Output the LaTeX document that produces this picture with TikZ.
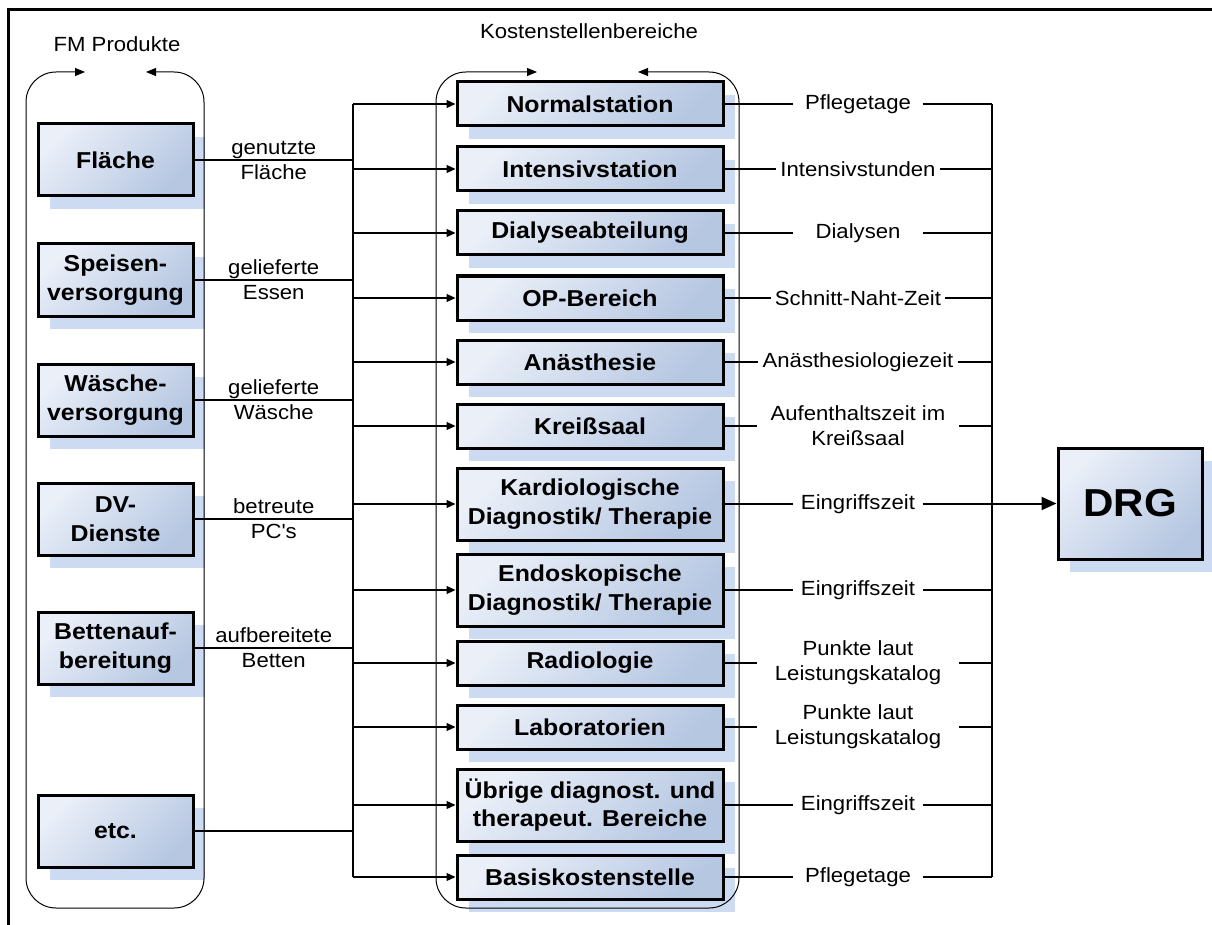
\documentclass[tikz,border=0pt]{standalone}
\usepackage{fontspec}
\setmainfont{Liberation Sans}[FakeStretch=1.08]
\usetikzlibrary{arrows.meta,shadows}

\definecolor{boxlight}{RGB}{234,239,248}
\definecolor{boxdark}{RGB}{182,199,226}
\definecolor{shadowblue}{RGB}{204,218,242}

\newcommand\lblfont{\fontsize{20.5}{25}\selectfont}
\newcommand\boxfont{\fontsize{23}{28.5}\selectfont\bfseries}

\tikzset{
  unitbox/.style={draw, line width=3pt, top color=boxlight, bottom color=boxdark,
    shading angle=45, font=\boxfont, align=center, inner sep=2pt,
    general shadow={shadow xshift=12pt, shadow yshift=-13pt, fill=shadowblue}},
  fmbox/.style={unitbox, minimum width=155pt, minimum height=72pt},
  ksbox/.style={unitbox, minimum width=266pt, minimum height=44pt},
  ksboxtall/.style={ksbox, minimum height=72pt},
  drgbox/.style={unitbox, minimum width=144pt, minimum height=111pt,
    font=\fontsize{39}{44}\selectfont\bfseries},
  flowlab/.style={font=\lblfont, align=center, inner sep=0pt},
  measlab/.style={font=\lblfont, align=center, inner xsep=4pt, inner ysep=0pt,
    minimum width=129pt},
  measlabwide/.style={measlab, minimum width=202pt},
  title/.style={font=\lblfont, inner sep=0pt},
  conn/.style={line width=1.2pt},
  feed/.style={conn, -{Triangle[length=9pt,width=8pt]}},
  contline/.style={line width=1pt, rounded corners=30pt},
  contarrow/.style={contline, -{Triangle[length=10pt,width=8pt]}},
  bigarrow/.style={line width=2pt, -{Triangle[length=15pt,width=13pt]}},
  frameline/.style={line width=3pt}
}

\begin{document}
\begin{tikzpicture}[x=1pt,y=-1pt]
\useasboundingbox (0,0) rectangle (1212,925);

% outer frame (top and left edges)
\draw[frameline] (8,925) -- (8,10) -- (1212,10);

% column titles
\node[title] (tFM) at (117,44) {FM Produkte};
\node[title] (tKS) at (589,31) {Kostenstellenbereiche};

% bus coordinates
\coordinate (busL) at (353,0);
\coordinate (busR) at (992,0);

% FM products
\node[fmbox] (fl)  at (115.5,160) {Fläche};
\node[fmbox] (sp)  at (115.5,280) {Speisen-\\versorgung};
\node[fmbox] (wa)  at (115.5,400) {Wäsche-\\versorgung};
\node[fmbox] (dv)  at (115.5,519) {DV-\\Dienste};
\node[fmbox] (be)  at (115.5,648) {Bettenauf-\\bereitung};
\node[fmbox] (etc) at (115.5,831) {etc.};

% cost centres
\node[ksbox]     (ns)   at (590,104) {Normalstation};
\node[ksbox]     (is)   at (590,169) {Intensivstation};
\node[ksbox]     (dia)  at (590,233) {Dialyseabteilung};
\node[ksbox]     (op)   at (590,298) {OP-Bereich};
\node[ksbox]     (an)   at (590,362) {Anästhesie};
\node[ksbox]     (kr)   at (590,426) {Kreißsaal};
\node[ksboxtall] (kar)  at (590,504) {Kardiologische\\Diagnostik/ Therapie};
\node[ksboxtall] (endo) at (590,590) {Endoskopische\\Diagnostik/ Therapie};
\node[ksbox]     (rad)  at (590,663) {Radiologie};
\node[ksbox]     (lab)  at (590,727) {Laboratorien};
\node[ksboxtall] (ueb)  at (590,805) {Übrige diagnost. und\\therapeut. Bereiche};
\node[ksbox]     (bas)  at (590,877) {Basiskostenstelle};

% DRG
\node[drgbox] (drg) at (1130,503.5) {DRG};

% containers
\draw[contarrow] (26,450) -- (26,72) -- (85,72);
\draw[contarrow] (204,450) -- (204,72) -- (146,72);
\draw[contline] (26,450) -- (26,908) -- (204,908) -- (204,450);
\draw[contarrow] (436,450) -- (436,72) -- (537,72);
\draw[contarrow] (739,450) -- (739,72) -- (638,72);
\draw[contline] (436,450) -- (436,908) -- (739,908) -- (739,450);

% FM products into the left bus
\draw[conn] (fl.east) -- node[flowlab] {genutzte\\Fläche} (fl.east -| busL);
\draw[conn] (sp.east) -- node[flowlab] {gelieferte\\Essen} (sp.east -| busL);
\draw[conn] (wa.east) -- node[flowlab] {gelieferte\\Wäsche} (wa.east -| busL);
\draw[conn] (dv.east) -- node[flowlab] {betreute\\PC\textquotesingle s} (dv.east -| busL);
\draw[conn] (be.east) -- node[flowlab] {aufbereitete\\Betten} (be.east -| busL);
\draw[conn] (etc.east) -- (etc.east -| busL);

% left bus and feeds into the cost centres
\draw[conn] (ns.west -| busL) -- (bas.west -| busL);
\foreach \k in {ns,is,dia,op,an,kr,kar,endo,rad,lab,ueb,bas}
  \draw[feed] (\k.west -| busL) -- (\k.west);

% allocation keys
\node[measlab]     (mns)   at (858,104) {Pflegetage};
\node[measlab]     (mis)   at (858,169) {Intensivstunden};
\node[measlab]     (mdia)  at (858,233) {Dialysen};
\node[measlab]     (mop)   at (858,298) {Schnitt-Naht-Zeit};
\node[measlab]     (man)   at (858,362) {Anästhesiologiezeit};
\node[measlabwide] (mkr)   at (858,426) {Aufenthaltszeit im\\Kreißsaal};
\node[measlab]     (mkar)  at (858,504) {Eingriffszeit};
\node[measlab]     (mendo) at (858,590) {Eingriffszeit};
\node[measlabwide] (mrad)  at (858,663) {Punkte laut\\Leistungskatalog};
\node[measlabwide] (mlab)  at (858,727) {Punkte laut\\Leistungskatalog};
\node[measlab]     (mueb)  at (858,805) {Eingriffszeit};
\node[measlab]     (mbas)  at (858,877) {Pflegetage};

\foreach \k in {ns,is,dia,op,an,kr,kar,endo,rad,lab,ueb,bas} {
  \draw[conn] (\k.east) -- (m\k.west);
  \draw[conn] (m\k.east) -- (m\k.east -| busR);
}

% right bus and arrow to DRG
\draw[conn] (mns.east -| busR) -- (mbas.east -| busR);
\draw[bigarrow] (drg.west -| busR) -- (drg.west);

\end{tikzpicture}
\end{document}
